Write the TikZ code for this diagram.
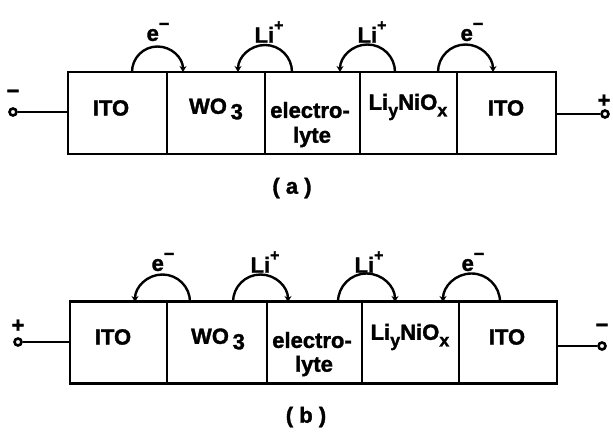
\documentclass[tikz,border=0pt]{standalone}
\usepackage{fontspec}
\setmainfont{Liberation Sans}[BoldFeatures={FakeBold=1.5}]
\usetikzlibrary{arrows.meta}
\tikzset{
  x=1pt, y=-1pt,
  cell/.style={draw, line width=2.4pt, inner sep=0pt, minimum height=82pt},
  txt/.style={font=\fontsize{22}{25}\selectfont\bfseries, inner sep=0pt, align=center},
  sgn/.style={font=\fontsize{22}{25}\selectfont\bfseries, inner sep=0pt},
  term/.style={circle, draw, line width=2.6pt, fill=white, inner sep=0pt, minimum size=7pt},
  wire/.style={line width=2.4pt},
  hop/.style={line width=2.4pt, -{Stealth[length=6pt,width=7pt]}},
}
\newcommand{\supm}{\raisebox{0.5em}{\fontsize{18}{18}\selectfont\bfseries −}}
\newcommand{\supp}{\raisebox{0.55em}{\fontsize{16}{16}\selectfont\bfseries +}}
\newcommand{\subx}[1]{\raisebox{-0.3em}{\fontsize{18}{18}\selectfont\bfseries #1}}
\begin{document}
\begin{tikzpicture}
\useasboundingbox (0,0) rectangle (613,434);
% ---------- panel (a) ----------
\node[cell, minimum width=99pt] (a1) at (117.5,113) {};
\node[cell, minimum width=98pt] (a2) at (216,113) {};
\node[cell, minimum width=95pt] (a3) at (312.5,113) {};
\node[cell, minimum width=97pt] (a4) at (408.5,113) {};
\node[cell, minimum width=99pt] (a5) at (506.5,113) {};
\node[txt] (ta1) at (111,108) {ITO};
\node[txt] (ta2) at (216,109) {WO\,\raisebox{-0.25em}{3}};
\node[txt] (ta3) at (310,110) {electro-};
\node[txt] (ta3b) at (312,137) {lyte};
\node[txt] (ta4) at (408,107) {Li\subx{y}NiO\subx{x}};
\node[txt] (ta5) at (506,108) {ITO};
\node[term] (aL) at (13,112) {};
\node[term] (aR) at (605,114) {};
\draw[wire] (aL) -- (aL -| a1.west);
\draw[wire] (aR) -- (aR -| a5.east);
\node[sgn] (aLs) at (13,94) {−};
\node[sgn] (aRs) at (604,101) {+};
\coordinate (a1s) at (132,72); \coordinate (a1e) at (183,72);
\coordinate (a2s) at (292,72); \coordinate (a2e) at (238,72);
\coordinate (a3s) at (395,72); \coordinate (a3e) at (340,72);
\coordinate (a4s) at (438,72); \coordinate (a4e) at (493,72);
\draw[hop] (a1s) arc[start angle=180, end angle=0, radius=25.5pt];
\draw[hop] (a2s) arc[start angle=0, end angle=180, radius=27pt];
\draw[hop] (a3s) arc[start angle=0, end angle=180, radius=27.5pt];
\draw[hop] (a4s) arc[start angle=180, end angle=0, radius=27.5pt];
\node[txt] (la1) at (158,32) {e\supm};
\node[txt] (la2) at (269,32) {Li\supp};
\node[txt] (la3) at (372,32) {Li\supp};
\node[txt] (la4) at (472,32) {e\supm};
\node[txt] (capa) at (292,188) {( a )};
% ---------- panel (b) ----------
\node[cell, minimum width=97pt] (b1) at (118.5,342.5) {};
\node[cell, minimum width=100pt] (b2) at (217,342.5) {};
\node[cell, minimum width=95pt] (b3) at (314.5,342.5) {};
\node[cell, minimum width=97pt] (b4) at (410.5,342.5) {};
\node[cell, minimum width=98pt] (b5) at (508,342.5) {};
\node[txt] (tb1) at (113,337) {ITO};
\node[txt] (tb2) at (218,339) {WO\,\raisebox{-0.25em}{3}};
\node[txt] (tb3) at (312,340) {electro-};
\node[txt] (tb3b) at (314,366) {lyte};
\node[txt] (tb4) at (410,337) {Li\subx{y}NiO\subx{x}};
\node[txt] (tb5) at (507,337) {ITO};
\node[term] (bL) at (18,342) {};
\node[term] (bR) at (602,346) {};
\draw[wire] (bL) -- (bL -| b1.west);
\draw[wire] (bR) -- (bR -| b5.east);
\node[sgn] (bLs) at (18,326) {+};
\node[sgn] (bRs) at (602,328) {−};
\coordinate (b1s) at (190,302); \coordinate (b1e) at (135,302);
\coordinate (b2s) at (233,302); \coordinate (b2e) at (288,302);
\coordinate (b3s) at (338,302); \coordinate (b3e) at (395,302);
\coordinate (b4s) at (500,302); \coordinate (b4e) at (443,302);
\draw[hop] (b1s) arc[start angle=0, end angle=180, radius=27.5pt];
\draw[hop] (b2s) arc[start angle=180, end angle=0, radius=27.5pt];
\draw[hop] (b3s) arc[start angle=180, end angle=0, radius=28.5pt];
\draw[hop] (b4s) arc[start angle=0, end angle=180, radius=28.5pt];
\node[txt] (lb1) at (163,262) {e\supm};
\node[txt] (lb2) at (265,262) {Li\supp};
\node[txt] (lb3) at (369,262) {Li\supp};
\node[txt] (lb4) at (473,262) {e\supm};
\node[txt] (capb) at (306,417) {( b )};
\end{tikzpicture}
\end{document}
